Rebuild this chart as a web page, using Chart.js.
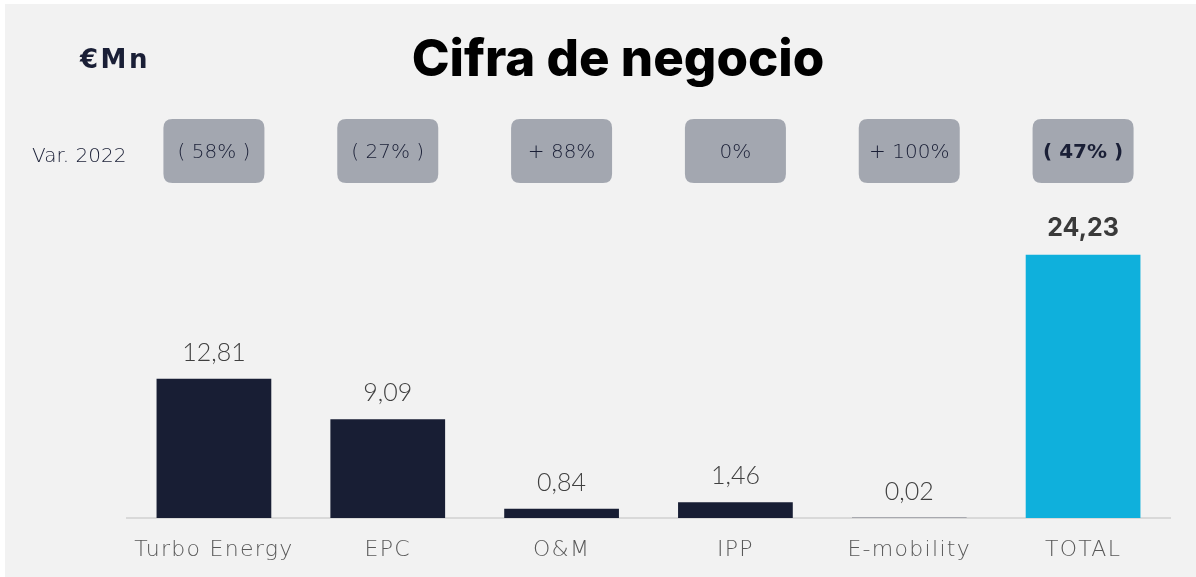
<!DOCTYPE html>
<html>
<head>
<meta charset="utf-8">
<script src="https://cdn.jsdelivr.net/npm/chart.js@4"></script>
<style>
  html, body { margin:0; padding:0; background:#ffffff; }
  #wrap { position:absolute; left:5px; top:4px; width:1191px; height:573px; background:#f2f2f2; }
  canvas { position:absolute; left:0; top:0; }
  .txt { position:absolute; white-space:nowrap; }
  #title { left:618px; top:57px; transform:translate(-50%,-50%); font-size:51px; font-weight:800; color:#000; font-family:'Inter',sans-serif; }
  #unit { left:80px; top:59px; transform:translateY(-50%); font-size:26px; font-weight:700; color:#1a1f36; font-family:'DejaVu Sans',sans-serif; letter-spacing:2.5px; }
  #var { left:32px; top:155px; transform:translateY(-50%); font-size:20px; font-weight:200; color:#1a1f36; font-family:'DejaVu Sans',sans-serif; }
</style>
</head>
<body>
<div id="wrap"></div>
<canvas id="c" width="1196" height="577"></canvas>
<div class="txt" id="title">Cifra de negocio</div>
<div class="txt" id="unit">€Mn</div>
<div class="txt" id="var">Var. 2022</div>
<script>
const categories = ['Turbo Energy', 'EPC', 'O&M', 'IPP', 'E-mobility', 'TOTAL'];
const values = [12.81, 9.09, 0.84, 1.46, 0.02, 24.23];
const variations = ['( 58% )', '( 27% )', '+ 88%', '0%', '+ 100%', '( 47% )'];
const yTicks = [0, 30];

const NAVY = '#181e34';
const CYAN = '#0fb0dc';
const barColors = categories.map((c, i) => i === categories.length - 1 ? CYAN : NAVY);
const LIGHT = "'DejaVu Sans',sans-serif";

function fmt(v) { return v.toFixed(2).replace('.', ','); }

function roundRect(ctx, x, y, w, h, r) {
  ctx.beginPath();
  ctx.moveTo(x + r, y);
  ctx.lineTo(x + w - r, y);
  ctx.quadraticCurveTo(x + w, y, x + w, y + r);
  ctx.lineTo(x + w, y + h - r);
  ctx.quadraticCurveTo(x + w, y + h, x + w - r, y + h);
  ctx.lineTo(x + r, y + h);
  ctx.quadraticCurveTo(x, y + h, x, y + h - r);
  ctx.lineTo(x, y + r);
  ctx.quadraticCurveTo(x, y, x + r, y);
  ctx.closePath();
}

const spacing = {
  id: 'spacing',
  beforeDraw(chart) { chart.ctx.letterSpacing = '1.3px'; },
  beforeDatasetsDraw(chart) { chart.ctx.letterSpacing = '0px'; }
};

const annot = {
  id: 'annot',
  afterDatasetsDraw(chart) {
    const ctx = chart.ctx;
    const meta = chart.getDatasetMeta(0);
    const last = categories.length - 1;
    ctx.save();
    ctx.letterSpacing = '0px';
    meta.data.forEach((bar, i) => {
      // value labels
      ctx.textAlign = 'center';
      ctx.textBaseline = 'middle';
      ctx.fillStyle = i === last ? '#3a3a3a' : '#404040';
      ctx.font = i === last ? "700 25px 'Inter',sans-serif" : "300 25px 'Lato',sans-serif";
      ctx.fillText(fmt(values[i]), bar.x, bar.y - 26);
      // variation pills
      const pw = 101, ph = 64, pcy = 151;
      ctx.fillStyle = '#a3a7b0';
      roundRect(ctx, bar.x - pw / 2, pcy - ph / 2, pw, ph, 9);
      ctx.fill();
      ctx.fillStyle = '#1a1f36';
      ctx.font = (i === last ? '700 20px ' : '200 20px ') + LIGHT;
      ctx.fillText(variations[i], bar.x, pcy + 2);
    });
    ctx.restore();
  }
};

new Chart(document.getElementById('c'), {
  type: 'bar',
  data: {
    labels: categories,
    datasets: [{
      data: values,
      backgroundColor: barColors,
      borderWidth: 0,
      barPercentage: 0.66,
      categoryPercentage: 1.0
    }]
  },
  options: {
    responsive: false,
    animation: false,
    layout: { padding: { left: 127, right: 26, top: 192, bottom: 0 } },
    plugins: { legend: { display: false }, tooltip: { enabled: false } },
    scales: {
      x: {
        grid: { display: false, drawTicks: false },
        border: { display: true, color: '#d9d9d9', width: 2 },
        ticks: { color: '#595959', font: { family: LIGHT, size: 22, weight: '200' }, padding: 19, maxRotation: 0 },
        afterFit(scale) { scale.height = 59; }
      },
      y: {
        display: false,
        min: yTicks[0],
        max: yTicks[1]
      }
    }
  },
  plugins: [spacing, annot]
});
</script>
</body>
</html>
